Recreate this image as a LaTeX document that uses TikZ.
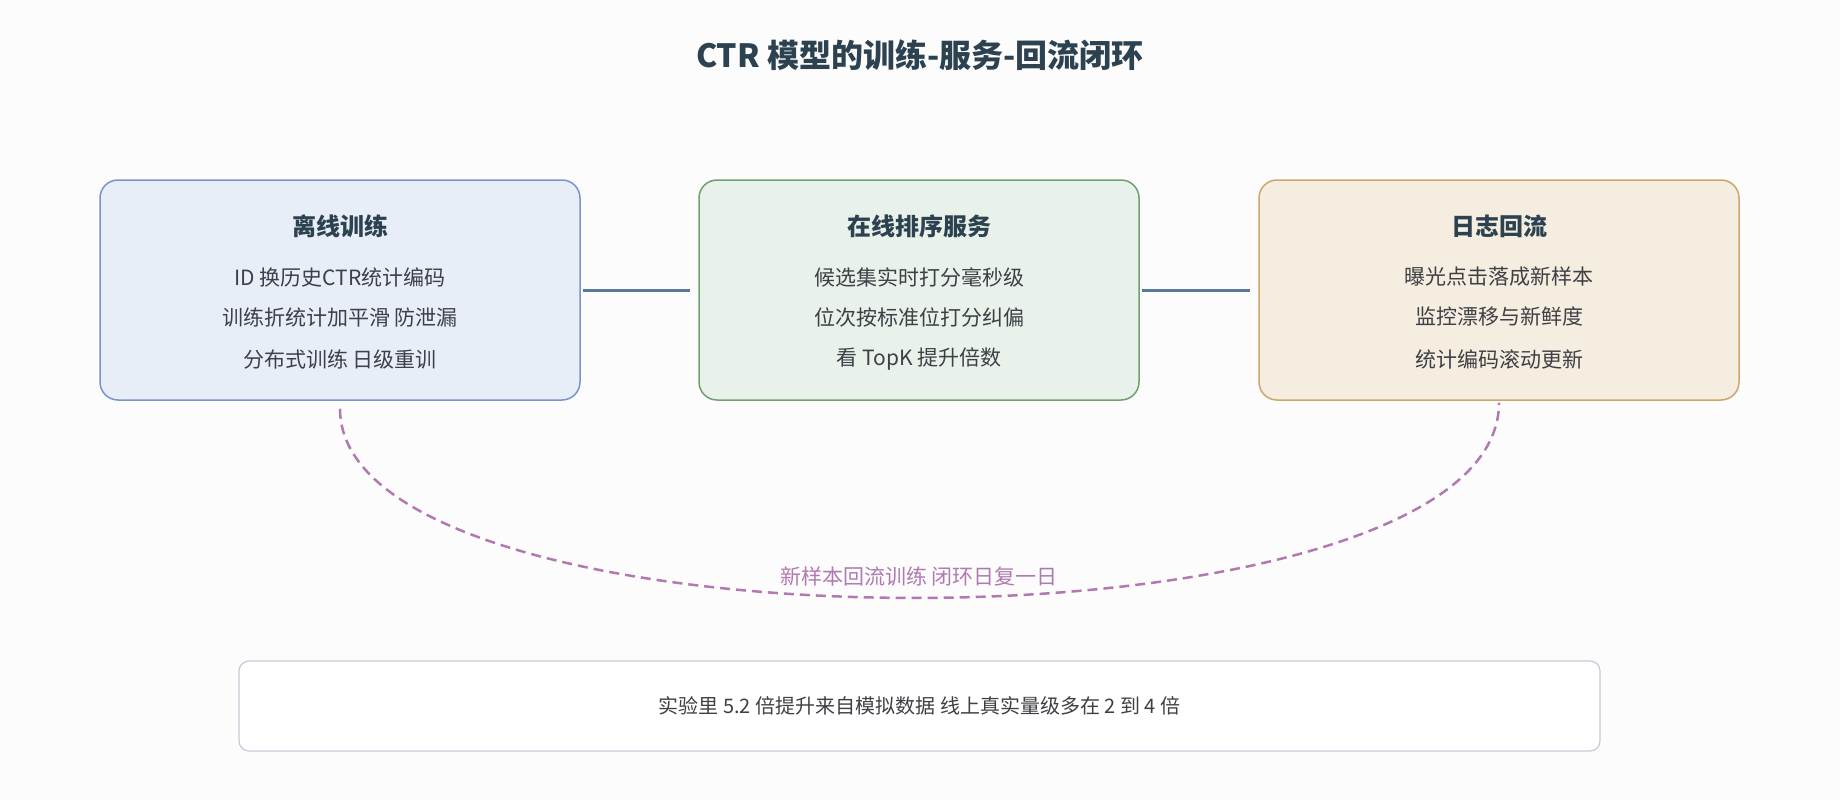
\documentclass[tikz,border=0pt]{standalone}
\usepackage{fontspec}
\setmainfont{Noto Sans CJK SC}
\usepackage{xcolor}
\definecolor{bgc}{HTML}{FCFCFD}
\definecolor{titlec}{HTML}{2D4250}
\definecolor{textc}{HTML}{3F3F46}
\definecolor{offfill}{HTML}{E8EEF8}
\definecolor{offdraw}{HTML}{7B93C9}
\definecolor{onfill}{HTML}{E8F2EA}
\definecolor{ondraw}{HTML}{6FA06F}
\definecolor{logfill}{HTML}{F5EDDF}
\definecolor{logdraw}{HTML}{C9A86A}
\definecolor{linkc}{HTML}{5A7898}
\definecolor{loopc}{HTML}{B07AB0}
\definecolor{notec}{HTML}{C8C8D8}
\usepackage{tikz}
\usetikzlibrary{positioning}
\usetikzlibrary{calc}

\begin{document}
\begin{tikzpicture}[x=1pt,y=-1pt,
  stage/.style={draw,rectangle,rounded corners=18pt,line width=1.5pt,minimum width=480pt,minimum height=220pt},
  head/.style={font=\fontsize{24}{28}\selectfont\bfseries,text=titlec},
  body/.style={font=\fontsize{21}{25}\selectfont,text=textc},
  link/.style={draw=linkc,line width=3pt}]
\useasboundingbox [fill=bgc] (0,0) rectangle (1840,800);
%title
\node (title) at (920,55) [font=\fontsize{32}{36}\selectfont\bfseries,text=titlec] {CTR 模型的训练-服务-回流闭环};

%stages
\node (off) at (340,290) [stage,fill=offfill,draw=offdraw] {};
\node (on) at (919,290) [stage,fill=onfill,draw=ondraw,minimum width=440pt] {};
\node (log) at (1499,290) [stage,fill=logfill,draw=logdraw] {};

%stage texts
\node (offh) at (340,226) [head] {离线训练};
\node (off1) at (340,277) [body] {ID 换历史CTR统计编码};
\node (off2) at (340,317) [body] {训练折统计加平滑 防泄漏};
\node (off3) at (340,359) [body] {分布式训练 日级重训};
\node (onh) at (919,226) [head] {在线排序服务};
\node (on1) at (919,277) [body] {候选集实时打分毫秒级};
\node (on2) at (919,317) [body] {位次按标准位打分纠偏};
\node (on3) at (919,359) [body] {看 TopK 提升倍数};
\node (logh) at (1499,226) [head] {日志回流};
\node (log1) at (1499,277) [body] {曝光点击落成新样本};
\node (log2) at (1499,317) [body] {监控漂移与新鲜度};
\node (log3) at (1499,359) [body] {统计编码滚动更新};

%links
\draw [link,shorten <=2pt,shorten >=8pt] (off) -- (on);
\draw [link,shorten <=2pt,shorten >=8pt] (on) -- (log);

%loop back
\draw [loopc,line width=2.5pt,dash pattern=on 10pt off 6pt,shorten <=8pt,shorten >=2pt]
  (off.south) .. controls (340,662) and (1499,662) .. (log.south);
\node (loopl) at (919,576) [font=\fontsize{21}{25}\selectfont,text=loopc] {新样本回流训练 闭环日复一日};

%note
\node (note) at (919.5,706) [draw=notec,fill=white,line width=1.2pt,rounded corners=10pt,minimum width=1361pt,minimum height=90pt,font=\fontsize{20}{24}\selectfont,text=textc] {实验里 5.2 倍提升来自模拟数据 线上真实量级多在 2 到 4 倍};
\end{tikzpicture}
\end{document}
